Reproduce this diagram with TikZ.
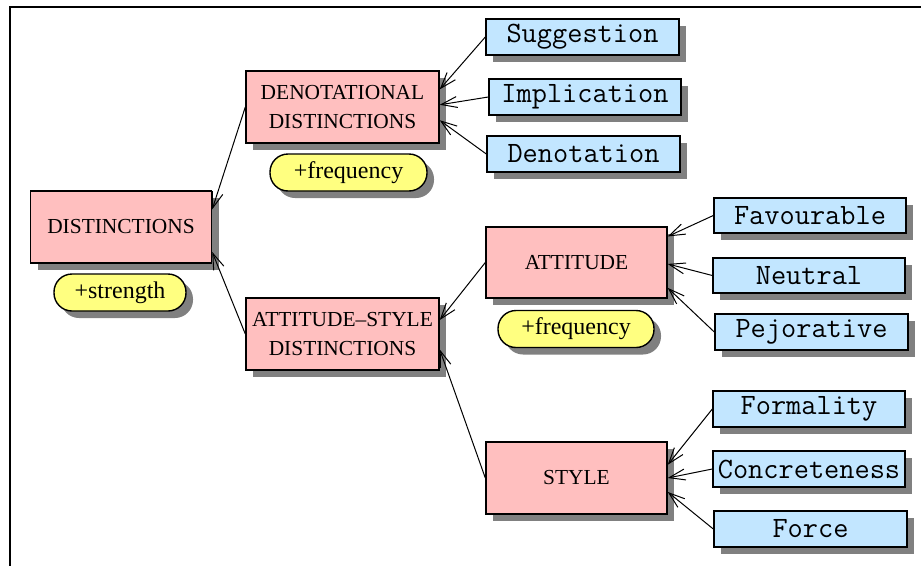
\documentclass[tikz,border=0pt]{standalone}
\usepackage{fontspec}
\setmainfont{Liberation Serif}
\usetikzlibrary{shadows,calc,arrows.meta}
\definecolor{boxpink}{HTML}{FFBFBF}
\definecolor{boxblue}{HTML}{C2E6FF}
\definecolor{boxyellow}{HTML}{FFFF80}
\tikzset{
  shade box/.style={drop shadow={shadow xshift=7pt, shadow yshift=-7pt, fill=black!50, opacity=1}},
  catbox/.style={draw, line width=1.4pt, fill=boxpink, shade box, inner sep=0pt, align=center,
    font=\fontsize{21.4}{28.5}\selectfont},
  leafbox/.style={draw, line width=1.4pt, fill=boxblue, shade box, inner sep=0pt,
    minimum height=36pt, font=\ttfamily\fontsize{29.5}{32}\selectfont},
  notebox/.style={draw, line width=1.4pt, fill=boxyellow, shade box, inner sep=0pt,
    rounded corners=18pt, minimum height=37pt, font=\fontsize{24}{28}\selectfont},
  link/.style={line width=1pt, -{Straight Barb[length=16pt, width=11pt, line width=1pt]}},
}
\begin{document}
\begin{tikzpicture}[x=1pt, y=-1pt]
\useasboundingbox (0,0) rectangle (921,565);
% frame
\draw[line width=2.5pt] (10,566) -- (10,7) -- (922,7);

% categories
\node[catbox, minimum width=181pt, minimum height=72pt] (dist) at (121,227) {DISTINCTIONS};
\node[catbox, minimum width=193pt, minimum height=72pt] (denot) at (342.5,107) {DENOTATIONAL\\DISTINCTIONS};
\node[catbox, minimum width=193pt, minimum height=72pt] (attsty) at (342.5,334) {ATTITUDE--STYLE\\DISTINCTIONS};
\node[catbox, minimum width=181pt, minimum height=71pt] (att) at (576.5,262.5) {ATTITUDE};
\node[catbox, minimum width=181pt, minimum height=72pt] (sty) at (576.5,478) {STYLE};

% notes
\node[notebox, minimum width=132pt] (strength) at (120,292.5) {+strength};
\node[notebox, minimum width=157pt] (freqA) at (348.5,172.5) {+frequency};
\node[notebox, minimum width=156pt] (freqB) at (576,329) {+frequency};

% leaves
\node[leafbox, minimum width=193pt] (sugg) at (582.5,37) {Suggestion};
\node[leafbox, minimum width=192pt] (impl) at (585,97) {Implication};
\node[leafbox, minimum width=193pt] (deno) at (583.5,154) {Denotation};
\node[leafbox, minimum width=192pt, minimum height=35pt] (fav) at (810,215.5) {Favourable};
\node[leafbox, minimum width=192pt, minimum height=35pt] (neu) at (809,275.5) {Neutral};
\node[leafbox, minimum width=193pt] (pej) at (811.5,332) {Pejorative};
\node[leafbox, minimum width=192pt] (form) at (809,409) {Formality};
\node[leafbox, minimum width=192pt] (conc) at (809,469) {Concreteness};
\node[leafbox, minimum width=193pt] (force) at (810.5,529) {Force};

% connectors, child -> parent
\draw[link] (denot.west) -- ($(dist.north east)!0.26!(dist.south east)$);
\draw[link] (attsty.west) -- ($(dist.north east)!0.84!(dist.south east)$);
\draw[link] (sugg.west) -- ($(denot.north east)!0.26!(denot.south east)$);
\draw[link] (impl.west) -- ($(denot.north east)!0.47!(denot.south east)$);
\draw[link] (deno.west) -- ($(denot.north east)!0.68!(denot.south east)$);
\draw[link] (att.west) -- ($(attsty.north east)!0.31!(attsty.south east)$);
\draw[link] (sty.west) -- ($(attsty.north east)!0.71!(attsty.south east)$);
\draw[link] (fav.west) -- ($(att.north east)!0.14!(att.south east)$);
\draw[link] (neu.west) -- ($(att.north east)!0.52!(att.south east)$);
\draw[link] (pej.west) -- ($(att.north east)!0.85!(att.south east)$);
\draw[link] (form.west) -- ($(sty.north east)!0.32!(sty.south east)$);
\draw[link] (conc.west) -- ($(sty.north east)!0.5!(sty.south east)$);
\draw[link] (force.west) -- ($(sty.north east)!0.69!(sty.south east)$);
\end{tikzpicture}
\end{document}
